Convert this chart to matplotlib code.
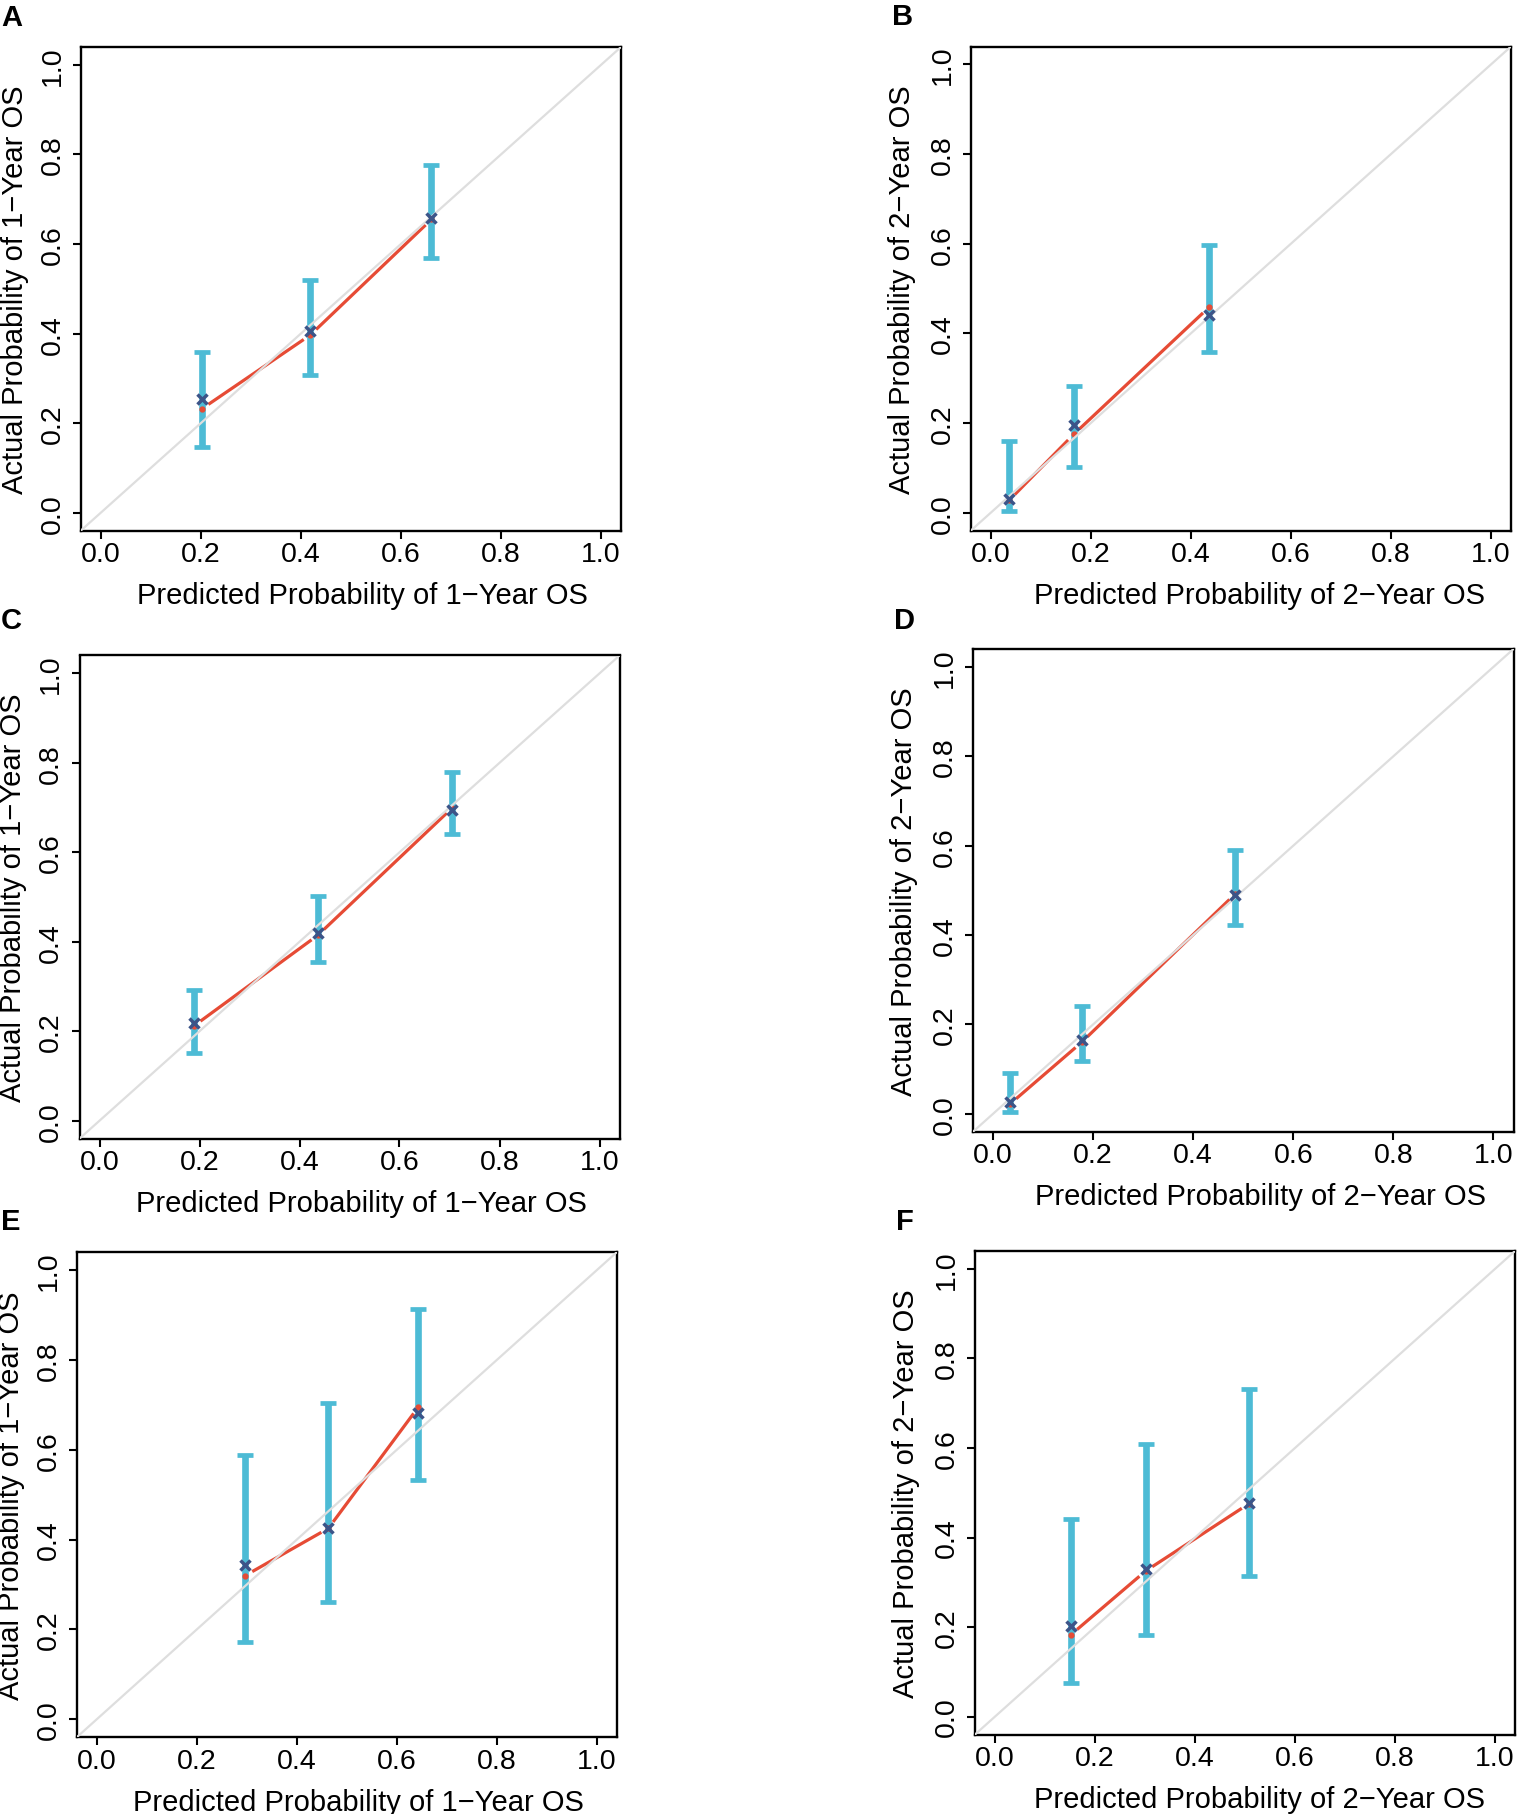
import matplotlib
matplotlib.use("Agg")
import matplotlib.pyplot as plt
import numpy as np
from matplotlib.ticker import FixedLocator, FormatStrFormatter

plt.rcParams['font.family'] = ['Liberation Sans', 'DejaVu Sans']

# ---------------- data ----------------
panels = ["A", "B", "C", "D", "E", "F"]
years = ["1", "2", "1", "2", "1", "2"]

pred_A = [0.202, 0.419, 0.661]
obs_A = [0.232, 0.397, 0.655]
corr_A = [0.254, 0.405, 0.658]
lo_A = [0.147, 0.307, 0.569]
hi_A = [0.359, 0.519, 0.776]

pred_B = [0.037, 0.166, 0.436]
obs_B = [0.028, 0.175, 0.458]
corr_B = [0.031, 0.196, 0.441]
lo_B = [0.004, 0.103, 0.359]
hi_B = [0.159, 0.282, 0.598]

pred_C = [0.189, 0.437, 0.706]
obs_C = [0.212, 0.415, 0.700]
corr_C = [0.218, 0.420, 0.695]
lo_C = [0.152, 0.355, 0.640]
hi_C = [0.292, 0.502, 0.780]

pred_D = [0.034, 0.177, 0.484]
obs_D = [0.022, 0.160, 0.492]
corr_D = [0.026, 0.165, 0.490]
lo_D = [0.005, 0.118, 0.423]
hi_D = [0.091, 0.242, 0.591]

pred_E = [0.297, 0.463, 0.643]
obs_E = [0.320, 0.425, 0.695]
corr_E = [0.344, 0.425, 0.682]
lo_E = [0.173, 0.262, 0.532]
hi_E = [0.588, 0.703, 0.913]

pred_F = [0.152, 0.301, 0.507]
obs_F = [0.183, 0.325, 0.475]
corr_F = [0.202, 0.329, 0.477]
lo_F = [0.076, 0.183, 0.313]
hi_F = [0.441, 0.609, 0.732]

ticks = [0.0, 0.2, 0.4, 0.6, 0.8, 1.0]

data = {
    "A": (pred_A, obs_A, corr_A, lo_A, hi_A),
    "B": (pred_B, obs_B, corr_B, lo_B, hi_B),
    "C": (pred_C, obs_C, corr_C, lo_C, hi_C),
    "D": (pred_D, obs_D, corr_D, lo_D, hi_D),
    "E": (pred_E, obs_E, corr_E, lo_E, hi_E),
    "F": (pred_F, obs_F, corr_F, lo_F, hi_F),
}

# ---------------- layout (pixels) ----------------
W, H = 1517, 1815
boxes = {  # left, right, top, bottom
    "A": (80.7, 621.0, 48.0, 531.7),
    "B": (970.7, 1511.0, 47.5, 531.7),
    "C": (79.5, 619.5, 656.5, 1139.6),
    "D": (973.0, 1513.5, 650.0, 1132.7),
    "E": (76.7, 617.0, 1253.0, 1738.3),
    "F": (975.0, 1515.0, 1252.0, 1735.5),
}
letter_pos = {  # x, top of ink
    "A": (1, 8), "B": (892, 7), "C": (1, 611),
    "D": (894, 611), "E": (1, 1212), "F": (896, 1212),
}
ylab_off = {"A": 52, "C": 52, "E": 52, "B": 55, "D": 55, "F": 55}
xlab_shift = {"A": 12, "C": 12, "E": 12, "B": 19, "D": 17, "F": 15}

RED = "#E64B35"
BLUE = "#4DBBD5"
DARK = "#3C5488"
GRAY = "#DEDEDE"
FS_TICK = 20.5
FS_LAB = 21

fig = plt.figure(figsize=(W / 100, H / 100), dpi=100)

for key, yr in zip(panels, years):
    L, R, T, B = boxes[key]
    ax = fig.add_axes([L / W, 1 - B / H, (R - L) / W, (B - T) / H])
    pred, obs, corr, lo, hi = data[key]
    ax.set_xlim(-0.04, 1.04)
    ax.set_ylim(-0.04, 1.04)

    lower = [c - l for c, l in zip(corr, lo)]
    upper = [h - c for c, h in zip(corr, hi)]
    ax.errorbar(pred, corr, yerr=[lower, upper], fmt="none", ecolor=BLUE,
                elinewidth=4.8, capsize=5.5, capthick=3.4, zorder=2)

    # observed line drawn R "type='b'" style: small gaps around points
    pts = ax.transData.transform(np.column_stack([pred, obs]))
    gap = 8.0
    for i in range(len(pts) - 1):
        p0, p1 = pts[i], pts[i + 1]
        d = p1 - p0
        u = d / np.hypot(*d)
        seg = np.array([p0 + u * gap, p1 - u * gap])
        seg_d = ax.transData.inverted().transform(seg)
        ax.plot(seg_d[:, 0], seg_d[:, 1], color=RED, lw=2.3,
                solid_capstyle="butt", zorder=3)
    ax.plot(pred, obs, linestyle="none", marker="o", color=RED,
            markersize=3.5, zorder=3)

    ax.plot([-0.04, 1.04], [-0.04, 1.04], color=GRAY, lw=1.6, zorder=4)
    ax.plot(pred, corr, linestyle="none", marker="x", color=DARK,
            markersize=7.5, mew=2.5, zorder=5)

    ax.xaxis.set_major_locator(FixedLocator(ticks))
    ax.yaxis.set_major_locator(FixedLocator(ticks))
    ax.xaxis.set_major_formatter(FormatStrFormatter("%.1f"))
    ax.yaxis.set_major_formatter(FormatStrFormatter("%.1f"))
    ax.tick_params(direction="out", length=6.0, width=1.5,
                   labelsize=FS_TICK, colors="black")
    ax.tick_params(axis="x", pad=1.5)
    ax.tick_params(axis="y", pad=5.0, labelrotation=90)
    for lab in ax.get_yticklabels():
        lab.set_va("center")
    for sp in ax.spines.values():
        sp.set_linewidth(1.7)
        sp.set_color("black")

    ax.set_xlabel(f"Predicted Probability of {yr}\u2212Year OS", fontsize=FS_LAB)
    ax.set_ylabel(f"Actual Probability of {yr}\u2212Year OS", fontsize=FS_LAB)
    ax.xaxis.set_label_coords(0.5 + xlab_shift[key] / (R - L), -50.5 / (B - T))
    ax.yaxis.set_label_coords(-ylab_off[key] / (R - L), 0.5)

    lx, ly = letter_pos[key]
    fig.text(lx / W, 1 - (ly - 4.0) / H, key, fontsize=21, fontweight="bold",
             ha="left", va="top")

fig.savefig("out.png", dpi=100)
